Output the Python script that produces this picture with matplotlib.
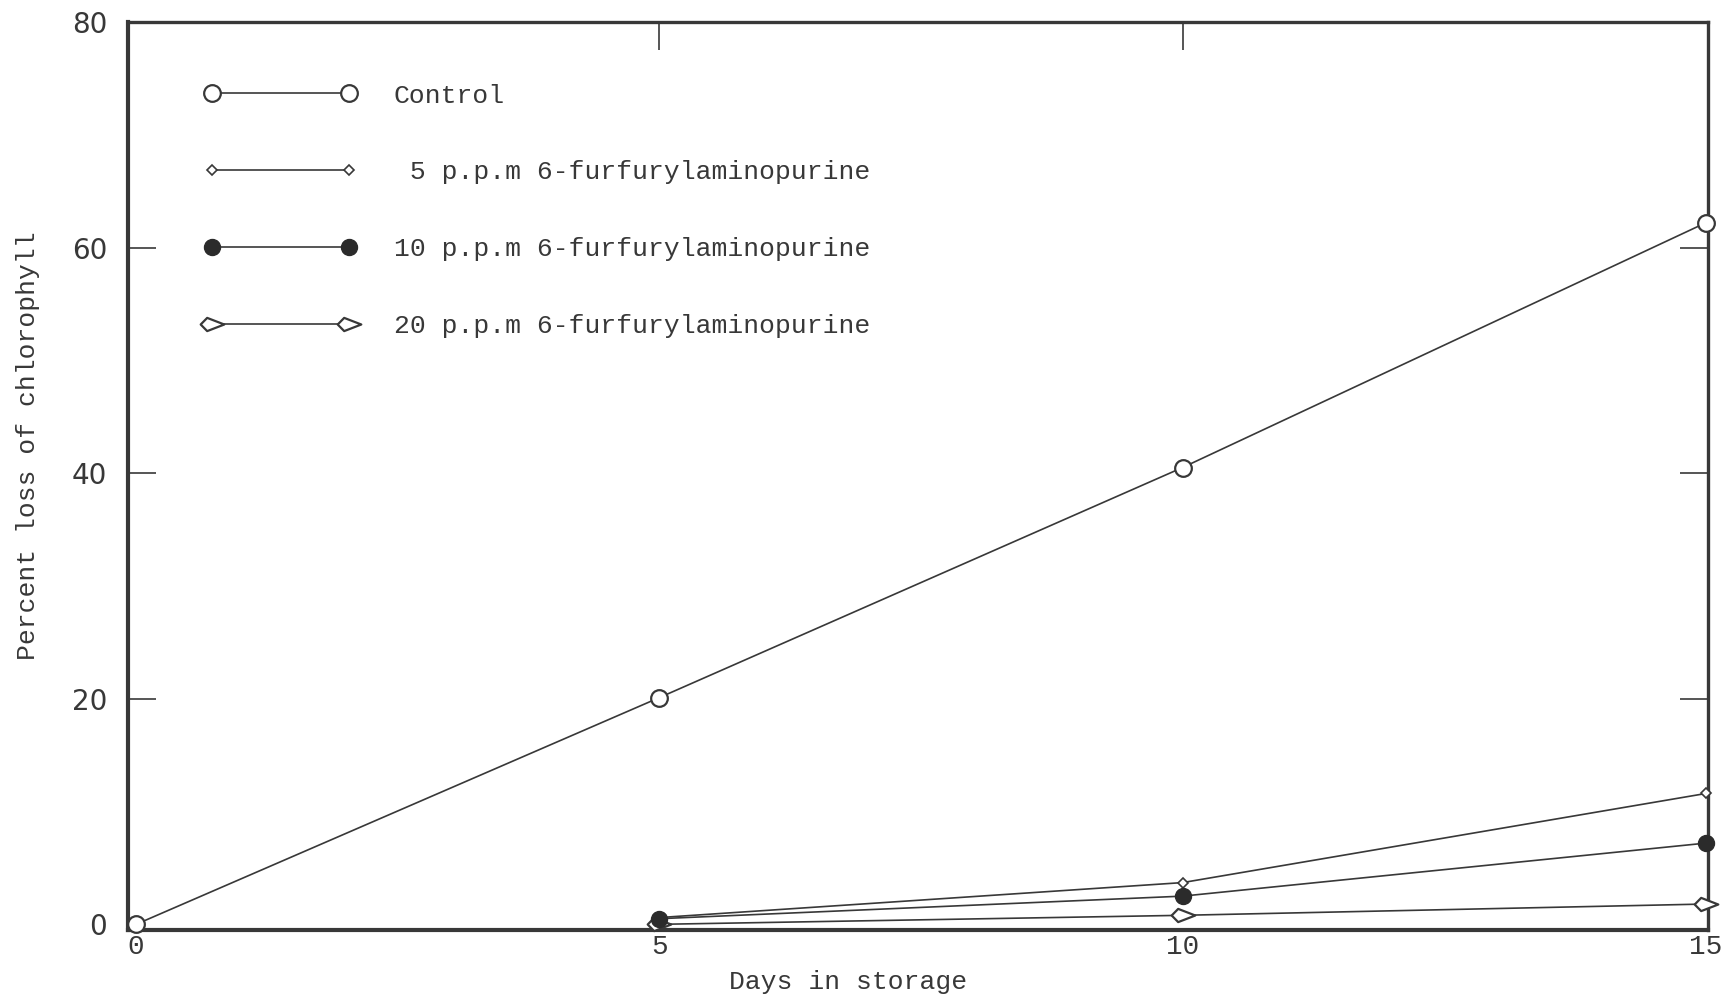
import numpy as np
import matplotlib
matplotlib.use("Agg")
import matplotlib.pyplot as plt
from matplotlib.path import Path

# values
days = [0, 5, 10, 15]
control = [0, 20.1, 40.5, 62.2]

treat_days = [5, 10, 15]
ppm5 = [0.6, 3.7, 11.6]
ppm10 = [0.5, 2.5, 7.2]
ppm20 = [0.0, 0.8, 1.8]

labels = ["Control",
          " 5 p.p.m 6-furfurylaminopurine",
          "10 p.p.m 6-furfurylaminopurine",
          "20 p.p.m 6-furfurylaminopurine"]

xticks = [0, 5, 10, 15]
yticks = [0, 20, 40, 60, 80]

ink = "#383838"
mono = "Liberation Mono"

# kite shaped marker used for the 20 p.p.m series
kite = Path([(-1, 0), (-0.45, 0.56), (1, 0), (-0.45, -0.56), (-1, 0)],
            [Path.MOVETO, Path.LINETO, Path.LINETO, Path.LINETO, Path.CLOSEPOLY])

fig = plt.figure(figsize=(17.28, 9.99), dpi=100)
ax = fig.add_axes([0.0741, 0.0691, 0.9143, 0.9089])

line_kw = dict(color=ink, lw=1.2, clip_on=False)
l0, = ax.plot(days, control, marker="o", ms=12, mfc="white", mec=ink, mew=1.6,
              label=labels[0], zorder=4, **line_kw)
l3, = ax.plot(treat_days, ppm20, marker=kite, ms=17, mfc="white", mec=ink, mew=1.6,
              label=labels[3], zorder=3, **line_kw)
l1, = ax.plot(treat_days, ppm5, marker="D", ms=5.5, mfc="white", mec=ink, mew=1.2,
              label=labels[1], zorder=3, **line_kw)
l2, = ax.plot(treat_days, ppm10, marker="o", ms=11.5, mfc="#2b2b2b", mec="#2b2b2b",
              label=labels[2], zorder=5, **line_kw)

ax.set_xlim(-0.077, 15.02)
ax.set_ylim(-0.5, 80)

ax.set_xticks(xticks)
ax.set_xticklabels([str(v) for v in xticks], fontfamily=mono, fontsize=20, color=ink)
ax.set_yticks(yticks)
ax.set_yticklabels([str(v) for v in yticks], fontfamily="DejaVu Sans", fontsize=20, color=ink)

ax.tick_params(axis="x", bottom=False, top=True, direction="in", length=20,
               width=1.2, color=ink, pad=3)
ax.tick_params(axis="y", left=True, right=True, direction="in", length=20,
               width=1.2, color=ink, pad=15)
for t in (ax.xaxis.get_major_ticks()[0], ax.xaxis.get_major_ticks()[-1]):
    t.tick2line.set_visible(False)
for t in (ax.yaxis.get_major_ticks()[0], ax.yaxis.get_major_ticks()[-1]):
    t.tick1line.set_visible(False)
    t.tick2line.set_visible(False)

for side, w in [("left", 3.0), ("bottom", 3.0), ("top", 2.4), ("right", 2.4)]:
    ax.spines[side].set_linewidth(w)
    ax.spines[side].set_color(ink)

ax.set_xlabel("Days in storage", fontfamily=mono, fontsize=19, color=ink)
ax.xaxis.set_label_coords(0.456, -0.044)
ax.set_ylabel("Percent loss of chlorophyll", fontfamily=mono, fontsize=19, color=ink)
ax.yaxis.set_label_coords(-0.056, 0.533)

leg = ax.legend(handles=[l0, l1, l2, l3], loc="upper left", bbox_to_anchor=(0.048, 0.932),
                frameon=False, numpoints=2, handlelength=5.8, handletextpad=1.4,
                labelspacing=2.0, borderpad=0, borderaxespad=0,
                prop={"family": mono, "size": 19})
for txt in leg.get_texts():
    txt.set_color(ink)

fig.savefig("out.png", dpi=100, facecolor="white")
